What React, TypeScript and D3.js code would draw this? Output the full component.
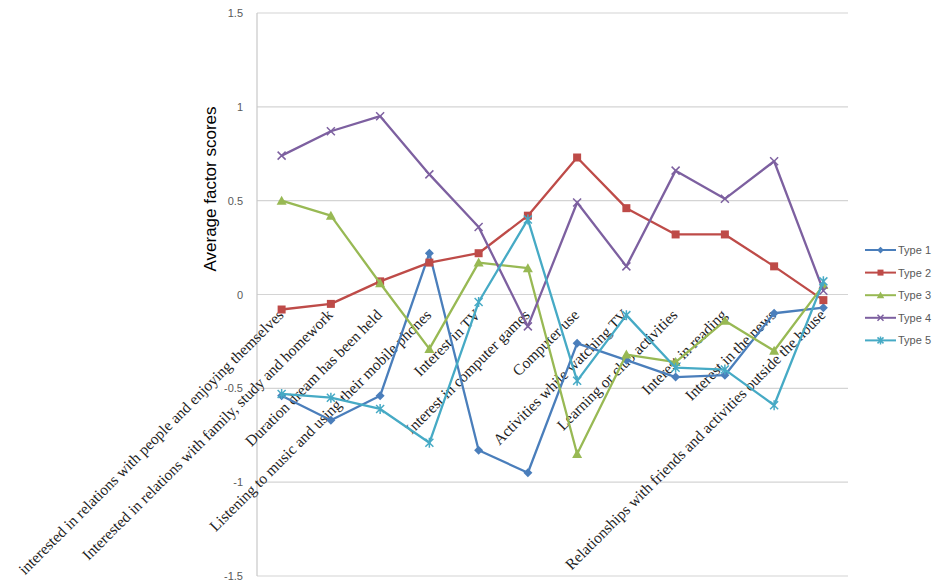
import React from "react";
import * as d3 from "d3";

const categories = [
  "interested in relations with people and enjoying themselves",
  "Interested in relations with family, study and homework",
  "Duration dream has been held",
  "Listening to music and using their mobile phones",
  "Interest in TV",
  "Interest in computer games",
  "Computer use",
  "Activities while watching TV",
  "Learning or club activities",
  "Interest in reading",
  "Interest in the news",
  "Relationships with friends and activities outside the house",
];

const type1 = [-0.54, -0.67, -0.54, 0.22, -0.83, -0.95, -0.26, -0.35, -0.44, -0.43, -0.1, -0.07];
const type2 = [-0.08, -0.05, 0.07, 0.17, 0.22, 0.42, 0.73, 0.46, 0.32, 0.32, 0.15, -0.03];
const type3 = [0.5, 0.42, 0.06, -0.29, 0.17, 0.14, -0.85, -0.32, -0.36, -0.14, -0.3, 0.05];
const type4 = [0.74, 0.87, 0.95, 0.64, 0.36, -0.17, 0.49, 0.15, 0.66, 0.51, 0.71, 0.02];
const type5 = [-0.53, -0.55, -0.61, -0.79, -0.04, 0.4, -0.46, -0.11, -0.39, -0.4, -0.59, 0.07];

const seriesNames = ["Type 1", "Type 2", "Type 3", "Type 4", "Type 5"];
const seriesValues = [type1, type2, type3, type4, type5];
const seriesColors = ["#4A7EBB", "#BE4B48", "#98B954", "#7D60A0", "#46AAC5"];
const markerKinds = ["diamond", "square", "triangle", "x", "asterisk"];

const yTicks = [-1.5, -1, -0.5, 0, 0.5, 1, 1.5];

function Marker({ kind, x, y, color, scale = 1 }: { kind: string; x: number; y: number; color: string; scale?: number }) {
  if (kind === "diamond") {
    const s = 4.5 * scale;
    return <path d={`M${x},${y - s}L${x + s},${y}L${x},${y + s}L${x - s},${y}Z`} fill={color} />;
  }
  if (kind === "square") {
    const s = 4 * scale;
    return <rect x={x - s} y={y - s} width={2 * s} height={2 * s} fill={color} />;
  }
  if (kind === "triangle") {
    const s = 5 * scale;
    return <path d={`M${x},${y - s}L${x + s},${y + s * 0.8}L${x - s},${y + s * 0.8}Z`} fill={color} />;
  }
  if (kind === "x") {
    const s = 4 * scale;
    return (
      <path d={`M${x - s},${y - s}L${x + s},${y + s}M${x - s},${y + s}L${x + s},${y - s}`} stroke={color} strokeWidth={1.5} />
    );
  }
  const s = 4 * scale;
  return (
    <path
      d={`M${x - s},${y - s}L${x + s},${y + s}M${x - s},${y + s}L${x + s},${y - s}M${x},${y - s - 1}L${x},${y + s + 1}`}
      stroke={color}
      strokeWidth={1.5}
    />
  );
}

export default function App() {
  const width = 939;
  const height = 587;
  const x = d3.scaleBand<string>().domain(categories).range([257, 848]);
  const cx = (c: string) => (x(c) as number) + x.bandwidth() / 2;
  const y = d3.scaleLinear().domain([-1.5, 1.5]).range([576, 13]);
  const line = d3
    .line<number>()
    .x((_, i) => cx(categories[i]))
    .y((d) => y(d));

  return (
    <svg width={width} height={height} style={{ position: "absolute", left: 0, top: 0, background: "#fff" }}>
      {yTicks.map((t) => (
        <g key={t}>
          <line x1={257} x2={848} y1={y(t)} y2={y(t)} stroke="#d4d4d4" strokeWidth={1.2} />
          <text
            x={243}
            y={y(t)}
            textAnchor="end"
            dominantBaseline="central"
            fontFamily="Liberation Sans, Arial, sans-serif"
            fontSize={11}
            fill="#595959"
          >
            {t}
          </text>
        </g>
      ))}
      <line x1={257} x2={257} y1={y(1.5)} y2={y(-1.5)} stroke="#c8c8c8" strokeWidth={1.2} />
      <text
        transform={`translate(216,${189}) rotate(-90)`}
        textAnchor="middle"
        fontFamily="Liberation Sans, Arial, sans-serif"
        fontSize={17}
        fill="#000"
      >
        Average factor scores
      </text>
      {categories.map((c) => (
        <text
          key={c}
          transform={`translate(${cx(c) - 1},${312}) rotate(-45)`}
          textAnchor="end"
          dominantBaseline="central"
          fontFamily="Liberation Serif, Times New Roman, serif"
          fontSize={15.5}
          fill="#222"
        >
          {c}
        </text>
      ))}
      {seriesValues.map((vals, si) => (
        <g key={si}>
          <path d={line(vals) || ""} fill="none" stroke={seriesColors[si]} strokeWidth={2.3} strokeLinejoin="round" />
          {vals.map((v, i) => (
            <Marker key={i} kind={markerKinds[si]} x={cx(categories[i])} y={y(v)} color={seriesColors[si]} />
          ))}
        </g>
      ))}
      {seriesNames.map((n, i) => {
        const ly = 250 + i * 22.6;
        return (
          <g key={n}>
            <line x1={865} x2={896} y1={ly} y2={ly} stroke={seriesColors[i]} strokeWidth={2} />
            <Marker kind={markerKinds[i]} x={880.5} y={ly} color={seriesColors[i]} scale={0.75} />
            <text
              x={898}
              y={ly}
              dominantBaseline="central"
              fontFamily="Liberation Sans, Arial, sans-serif"
              fontSize={11}
              fill="#595959"
            >
              {n}
            </text>
          </g>
        );
      })}
    </svg>
  );
}
